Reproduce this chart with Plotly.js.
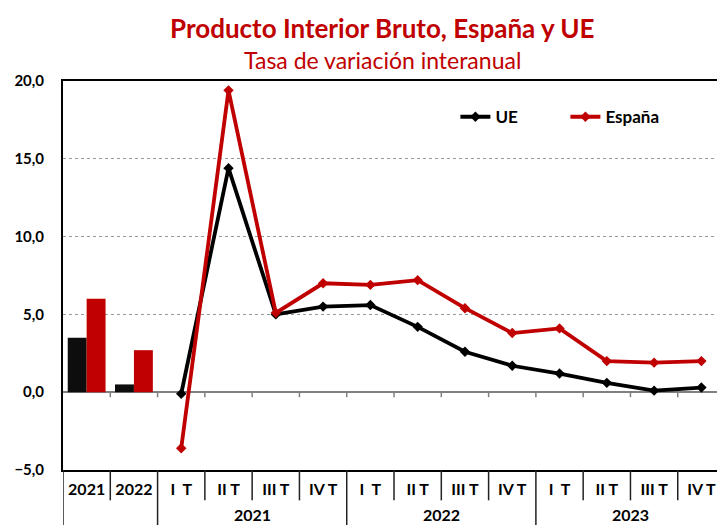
<!DOCTYPE html>
<html>
<head>
<meta charset="utf-8">
<script src="https://cdn.plot.ly/plotly-3.0.1.min.js"></script>
<style>html,body{margin:0;padding:0;background:#fff;}#chart{width:717px;height:525px;}</style>
</head>
<body>
<div id="chart"></div>
<script>
// ---- Data ----
const years = ['2021', '2022', '2023'];
const annualLabels = ['2021', '2022'];
const annualUE = [3.5, 0.5];
const annualES = [6.0, 2.7];
const quarterLabels = ['I  T', 'II T', 'III T', 'IV T'];
const quarterlyUE = [-0.1, 14.4, 5.0, 5.5, 5.6, 4.2, 2.6, 1.7, 1.2, 0.6, 0.1, 0.3];
const quarterlyES = [-3.6, 19.4, 5.1, 7.0, 6.9, 7.2, 5.4, 3.8, 4.1, 2.0, 1.9, 2.0];
const seriesNames = ['UE', 'España'];

// ---- Derived positions (category indices) ----
const nAnnual = annualLabels.length;
const tickText = annualLabels.concat(years.flatMap(() => quarterLabels));
const tickVals = tickText.map((_, i) => i);
const annualX = annualLabels.map((_, i) => i);
const quarterX = quarterlyUE.map((_, i) => i + nAnnual);

const RED = '#C00000';
const BLACK = '#000000';
const FONT = 'Lato, "Open Sans", sans-serif';

const traces = [
  { type: 'bar', x: annualX, y: annualUE, marker: { color: '#0D0D0D' }, showlegend: false, hoverinfo: 'skip' },
  { type: 'bar', x: annualX, y: annualES, marker: { color: RED }, showlegend: false, hoverinfo: 'skip' },
  { type: 'scatter', mode: 'lines+markers', name: seriesNames[0], x: quarterX, y: quarterlyUE,
    line: { color: BLACK, width: 3.8 }, marker: { symbol: 'diamond', size: 8, color: BLACK } },
  { type: 'scatter', mode: 'lines+markers', name: seriesNames[1], x: quarterX, y: quarterlyES,
    line: { color: RED, width: 3.8 }, marker: { symbol: 'diamond', size: 8, color: RED } }
];

// separators
const shapes = [];
const nCats = tickText.length;
for (let b = 0; b <= nCats; b++) {
  const pos = b - 0.5;
  const isLong = (b === 0) || (b === nAnnual) || ((b - nAnnual) % quarterLabels.length === 0 && b > nAnnual);
  if (b > 0) {
    shapes.push({ type: 'line', xref: 'x', yref: 'y', ysizemode: 'pixel', yanchor: 0, x0: pos, x1: pos, y0: 0, y1: -5,
      line: { color: '#808080', width: 1.5 } });
  }
  shapes.push({ type: 'line', xref: 'x', yref: 'paper', x0: pos, x1: pos, y0: 0, y1: isLong ? -0.15 : -0.078,
    line: { color: '#222', width: 1.5 } });
}

const annotations = [
  { text: '<b>Producto Interior Bruto, España y UE</b>', xref: 'paper', yref: 'paper', x: 0.488, y: 1.136,
    xanchor: 'center', yanchor: 'middle', showarrow: false, font: { family: FONT, size: 26, color: RED } },
  { text: 'Tasa de variación interanual', xref: 'paper', yref: 'paper', x: 0.488, y: 1.055,
    xanchor: 'center', yanchor: 'middle', showarrow: false, font: { family: FONT, size: 23, color: RED } }
];
years.forEach((yr, i) => {
  const center = nAnnual + i * quarterLabels.length + (quarterLabels.length - 1) / 2;
  annotations.push({ text: '<b>' + yr + '</b>', xref: 'x', yref: 'paper', x: center, y: -0.114,
    xanchor: 'center', yanchor: 'middle', showarrow: false, font: { family: FONT, size: 16, color: BLACK } });
});

const layout = {
  width: 717, height: 525,
  margin: { l: 63, r: 0, t: 81, b: 55 },
  paper_bgcolor: '#fff', plot_bgcolor: '#fff',
  font: { family: FONT, color: BLACK },
  barmode: 'group', bargap: 0.2, bargroupgap: 0,
  separators: ',.',
  showlegend: true,
  legend: { orientation: 'h', x: 0.6, y: 0.907, xanchor: 'left', yanchor: 'middle',
    font: { family: FONT, size: 17, color: BLACK, weight: 'bold' }, bgcolor: 'rgba(0,0,0,0)',
    itemwidth: 30, entrywidth: 65 },
  xaxis: {
    range: [-0.5, 13.33], tickvals: tickVals, ticktext: tickText.map(t => '<b>' + t + '</b>'),
    showgrid: false, zeroline: false, showline: true, linecolor: BLACK, linewidth: 2, mirror: true,
    ticks: '', tickfont: { family: FONT, size: 16, color: BLACK }, ticklabelstandoff: 4, fixedrange: true
  },
  yaxis: {
    range: [-5, 20], dtick: 5, tick0: 0, tickformat: '.1f',
    showgrid: true, gridcolor: '#999', griddash: 'dot', gridwidth: 1,
    zeroline: true, zerolinecolor: '#808080', zerolinewidth: 2,
    showline: true, linecolor: BLACK, linewidth: 2,
    ticks: '', tickfont: { family: FONT, size: 15, color: BLACK, weight: 'bold' }, ticklabelstandoff: 14, fixedrange: true
  },
  shapes: shapes,
  annotations: annotations
};

Plotly.newPlot('chart', traces, layout, { displayModeBar: false, staticPlot: true });
</script>
</body>
</html>
